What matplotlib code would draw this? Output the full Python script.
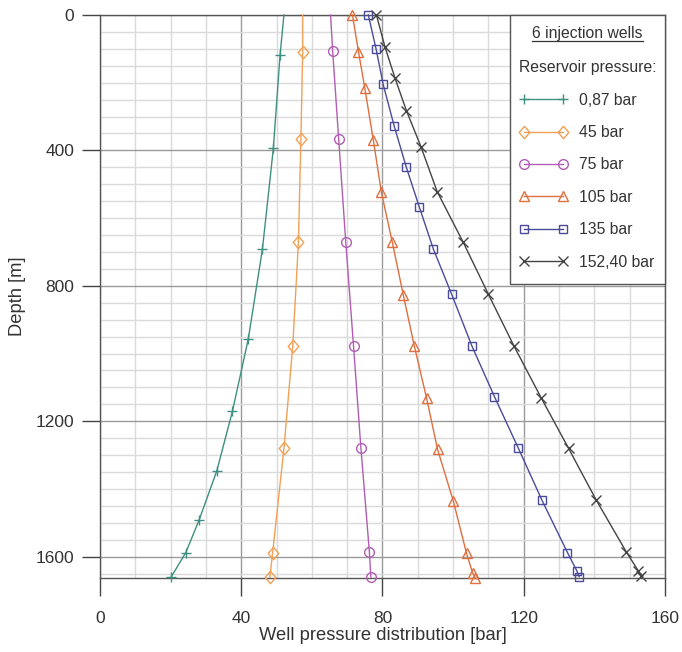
import numpy as np
import matplotlib
matplotlib.use('Agg')
import matplotlib.pyplot as plt
from matplotlib.ticker import MultipleLocator
from matplotlib.lines import Line2D
from matplotlib.patches import Rectangle

plt.rcParams['font.family'] = ['Liberation Sans', 'DejaVu Sans']

# depth [m] / well pressure [bar] for each reservoir pressure
depth_087 = [0, 118, 394, 692, 957, 1171, 1346, 1491, 1588, 1661]
pres_087 = [52.1, 51.0, 49.1, 46.0, 42.0, 37.5, 33.1, 28.1, 24.3, 20.1]

depth_45 = [0, 108, 367, 671, 977, 1280, 1588, 1661]
pres_45 = [57.4, 57.4, 56.9, 56.2, 54.6, 52.1, 48.9, 48.1]

depth_75 = [0, 106, 367, 670, 977, 1280, 1587, 1660]
pres_75 = [65.3, 65.9, 67.6, 69.6, 71.8, 73.9, 76.3, 76.7]

depth_105 = [0, 108, 216, 369, 524, 672, 827, 977, 1132, 1283, 1437, 1590, 1647, 1662]
pres_105 = [71.5, 73.2, 75.0, 77.4, 79.7, 82.8, 85.9, 89.0, 92.5, 95.6, 100.1, 103.8, 105.5, 106.2]

depth_135 = [0, 101, 205, 327, 448, 566, 691, 825, 977, 1127, 1280, 1434, 1588, 1641, 1659]
pres_135 = [76.0, 78.2, 80.2, 83.3, 86.7, 90.4, 94.4, 99.6, 105.3, 111.7, 118.5, 125.2, 132.4, 135.0, 135.7]

depth_152 = [0, 94, 185, 283, 389, 522, 672, 825, 977, 1130, 1280, 1434, 1585, 1641, 1657]
pres_152 = [78.3, 80.7, 83.5, 86.8, 90.9, 95.5, 102.9, 110.0, 117.2, 124.9, 132.7, 140.6, 149.0, 152.4, 153.2]

labels = ['0,87 bar', '45 bar', '75 bar', '105 bar', '135 bar', '152,40 bar']

# slightly squat diamond, like the spreadsheet marker
diamond = [(0, 1), (0.85, 0), (0, -1), (-0.85, 0), (0, 1)]

series = [
    (pres_087, depth_087, '#3f8f80', '+', 7.5, 1),
    (pres_45, depth_45, '#f2a055', diamond, 9, 1),
    (pres_75, depth_75, '#b15db3', 'o', 7, 1),
    (pres_105, depth_105, '#e06e3e', '^', 7.5, 0),
    (pres_135, depth_135, '#4b4b9c', 's', 6, 0),
    (pres_152, depth_152, '#444444', 'x', 6.5, 0),
]

fig = plt.figure(figsize=(6.82, 6.52), dpi=100)
ax = fig.add_axes([0.1466, 0.1135, 0.8284, 0.8635])

handles = []
for (p, d, col, mk, ms, first), lab in zip(series, labels):
    h, = ax.plot(p, d, color=col, lw=1.0, marker=mk, ms=ms, mfc='none',
                 mec=col, mew=1.0, markevery=list(range(first, len(p))),
                 clip_on=False, zorder=3, label=lab)
    handles.append(h)

ax.set_xlim(0, 160)
ax.set_ylim(1663, 0)
ax.xaxis.set_major_locator(MultipleLocator(40))
ax.xaxis.set_minor_locator(MultipleLocator(10))
ax.yaxis.set_major_locator(MultipleLocator(400))
ax.yaxis.set_minor_locator(MultipleLocator(50))
ax.grid(which='minor', color='#dadada', lw=1.0)
ax.grid(which='major', color='#9a9a9a', lw=1.0)
ax.set_axisbelow(True)
ax.tick_params(which='major', direction='out', length=13, width=1,
               color='#444444', labelsize=12.5, labelcolor='#333333')
ax.tick_params(axis='x', which='major', pad=10.5)
ax.tick_params(axis='y', which='major', pad=5.5)
ax.tick_params(which='minor', length=0)
for sp in ax.spines.values():
    sp.set_color('#555555')
    sp.set_linewidth(1.0)

ax.set_xlabel('Well pressure distribution [bar]', fontsize=13.2, color='#333333', labelpad=1)
ax.set_ylabel('Depth [m]', fontsize=13.2, color='#333333', labelpad=7)

leg = ax.legend(handles=handles, loc='upper right', bbox_to_anchor=(1, 0.935),
                borderaxespad=0, title='Reservoir pressure:', alignment='left',
                fontsize=11.3, title_fontsize=11.3, numpoints=2,
                handlelength=3.1, handletextpad=0.75, labelspacing=1.11,
                borderpad=0.55, frameon=False)
leg.set_zorder(6)
leg.get_title().set_color('#333333')
for t in leg.get_texts():
    t.set_color('#333333')

# box around the legend, reaching up to the top of the axes, with an underlined heading
fig.canvas.draw()
r = fig.canvas.get_renderer()
lb = leg.get_window_extent(r).transformed(ax.transAxes.inverted())
px = 1 / (ax.bbox.height)
box = Rectangle((lb.x0, lb.y0 - 6 * px), 1 - lb.x0, 1 - lb.y0 + 6 * px,
                transform=ax.transAxes, facecolor='white', edgecolor='#555555',
                lw=1.0, zorder=5, clip_on=False)
ax.add_patch(box)
head = ax.text((lb.x0 + 1) / 2, 1 - 19 * px, '6 injection wells', transform=ax.transAxes,
               ha='center', va='center', fontsize=11.3, color='#333333', zorder=6)
fig.canvas.draw()
inv = fig.transFigure.inverted()
hb = head.get_window_extent(r)
(ux0, uy), (ux1, _) = inv.transform([(hb.x0, hb.y0), (hb.x1, hb.y0)])
fig.add_artist(Line2D([ux0, ux1], [uy, uy], color='#333333', lw=0.9,
                      transform=fig.transFigure))

plt.savefig('out.png', dpi=100)
plt.close(fig)
